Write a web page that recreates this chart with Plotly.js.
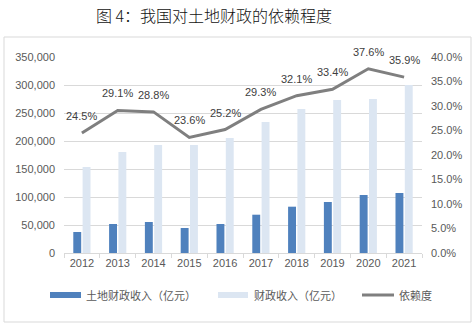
<!DOCTYPE html>
<html><head><meta charset="utf-8">
<script src="https://cdn.plot.ly/plotly-3.0.1.min.js"></script>
<style>html,body{margin:0;padding:0;background:#fff;}#chart{width:474px;height:325px;}</style>
</head><body><div id="chart"></div>
<script>
const years = ['2012','2013','2014','2015','2016','2017','2018','2019','2020','2021'];
const landIncome = [37500, 51800, 55400, 44600, 51800, 68400, 82700, 91100, 103600, 107100];
const fiscalIncome = [153600, 180400, 192900, 192900, 205400, 234000, 257200, 273300, 275000, 300000];
const dependence = [0.245, 0.291, 0.288, 0.236, 0.252, 0.293, 0.321, 0.334, 0.376, 0.359];
const seriesNames = ['土地财政收入（亿元）', '财政收入（亿元）', '依赖度'];
const titleText = '图 4：我国对土地财政的依赖程度';

const W = 474, H = 325, L = 64, R = 52, T = 57, B = 72;
const pw = W - L - R, ph = H - T - B;
const px = x => (x - L) / pw;
const py = y => (H - B - y) / ph;

const cDark = '#4f81bd', cLight = '#dce6f2', cLine = '#7f7f7f';
const txt = '#595959', grid = '#d9d9d9';

const traces = [
  {type:'bar', x:years, y:landIncome, name:seriesNames[0], marker:{color:cDark}, showlegend:false, hoverinfo:'none'},
  {type:'bar', x:years, y:fiscalIncome, name:seriesNames[1], marker:{color:cLight}, showlegend:false, hoverinfo:'none'},
  {type:'scatter', mode:'lines', x:years, y:dependence, yaxis:'y2', name:seriesNames[2], line:{color:cLine, width:3}, showlegend:false, hoverinfo:'none'}
];

// category axis: annotation x given as category index
const annotations = dependence.map((v,i)=>({
  x: i, y: v, xref:'x', yref:'y2', text:(v*100).toFixed(1)+'%', showarrow:false,
  yshift:17, font:{family:'Liberation Sans, Arial', size:11, color:'#404040'}
}));

// custom legend
const legY = 295;
const shapes = [
  {type:'rect', xref:'paper', yref:'paper', x0:px(4), x1:px(471), y0:py(322), y1:py(37), line:{color:grid, width:1}, fillcolor:'rgba(0,0,0,0)', layer:'below'},
  {type:'rect', xref:'paper', yref:'paper', x0:px(50), x1:px(81), y0:py(legY+3), y1:py(legY-3), line:{width:0}, fillcolor:cDark},
  {type:'rect', xref:'paper', yref:'paper', x0:px(218), x1:px(248), y0:py(legY+3), y1:py(legY-3), line:{width:0}, fillcolor:cLight},
  {type:'line', xref:'paper', yref:'paper', x0:px(362), x1:px(394), y0:py(legY), y1:py(legY), line:{color:cLine, width:3}}
];
const legX = [84, 252, 397];
seriesNames.forEach((n,i)=>annotations.push({
  xref:'paper', yref:'paper', x:px(legX[i]), y:py(legY), xanchor:'left', yanchor:'middle', text:n, showarrow:false,
  font:{family:'Noto Sans CJK SC, Liberation Sans', size:11, color:txt}
}));

const layout = {
  width:W, height:H, margin:{l:L, r:R, t:T, b:B},
  paper_bgcolor:'#fff', plot_bgcolor:'#fff',
  title:{text:titleText, xref:'paper', x:px(214), xanchor:'center', yref:'container', y:1-16/H, yanchor:'middle',
    font:{family:'Noto Sans CJK SC', size:16, color:'#111', weight:300}},
  barmode:'group', bargap:0.48, bargroupgap:0.15,
  xaxis:{type:'category', range:[-0.5, years.length-0.5], showline:true, linecolor:grid, linewidth:1, ticks:'outside', tickson:'boundaries', ticklen:4, tickcolor:grid,
    tickfont:{family:'Liberation Sans, Arial', size:11, color:txt}, showgrid:false, fixedrange:true},
  yaxis:{range:[0,350000], dtick:50000, tickformat:',d', showgrid:true, gridcolor:grid, gridwidth:1, zeroline:false, showline:false,
    ticklabelstandoff:8, tickfont:{family:'Liberation Sans, Arial', size:11, color:txt}, fixedrange:true},
  yaxis2:{overlaying:'y', side:'right', range:[0,0.4], dtick:0.05, tickformat:'.1%', showgrid:false, zeroline:false, showline:false,
    ticklabelstandoff:8, tickfont:{family:'Liberation Sans, Arial', size:11, color:txt}, fixedrange:true},
  annotations:annotations, shapes:shapes, showlegend:false
};
Plotly.newPlot('chart', traces, layout, {staticPlot:true, displayModeBar:false});
</script></body></html>
